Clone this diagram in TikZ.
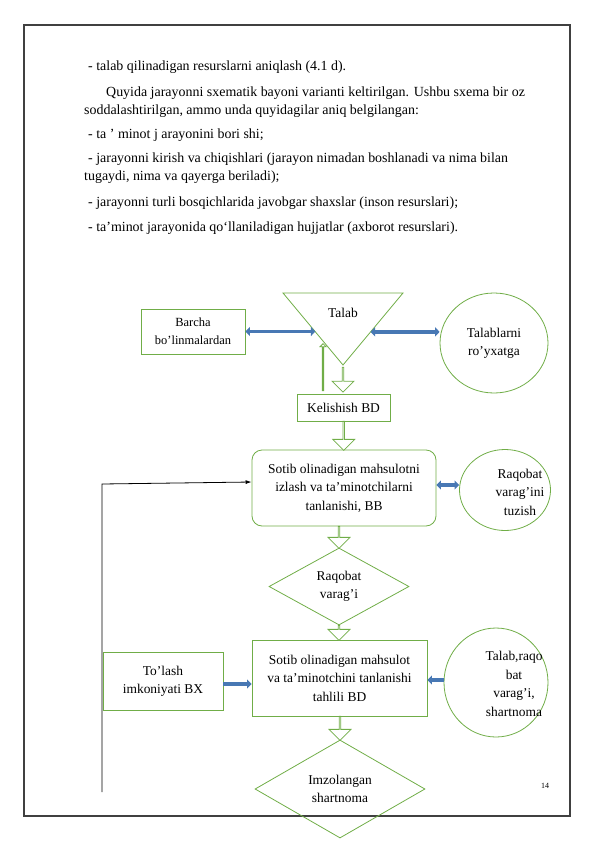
\documentclass[tikz,border=0pt]{standalone}
\usepackage{fontspec}
\setmainfont{Liberation Serif}
\usetikzlibrary{shapes.geometric,shapes.arrows,arrows.meta,calc}
\definecolor{gline}{RGB}{112,173,71}
\definecolor{bline}{RGB}{72,120,180}
\definecolor{framec}{RGB}{64,64,64}
\tikzset{
  box/.style={draw=gline, line width=0.8bp, align=center, inner sep=0pt},
  rbox/.style={box, rounded corners=10bp},
  ell/.style={box, ellipse},
  dia/.style={box, diamond},
  harrow/.style={single arrow, draw=gline, fill=white, line width=0.8bp,
    shape border rotate=270, minimum width=22bp, single arrow head extend=5.5bp,
    inner sep=0pt, minimum height=#1},
  btip/.style={-{Triangle[length=4.5bp,width=9bp]}},
  barrow/.style={draw=bline, line width=3.5bp, btip},
  bbarrow/.style={draw=bline, line width=3.5bp, {Triangle[length=4.5bp,width=9bp]}-{Triangle[length=4.5bp,width=9bp]}},
  body/.style={anchor=base west, inner sep=0pt, font=\fontsize{14}{16}\selectfont},
}
\begin{document}
\begin{tikzpicture}[x=1bp,y=-1bp,font=\fontsize{13.5}{18.5}\selectfont]
\useasboundingbox (0,0) rectangle (595,842);
\draw[framec, line width=2bp] (24,25) rectangle (570,816);

% text above the scheme
\node[body] (t1) at (88,70) {- talab qilinadigan resurslarni aniqlash (4.1 d).};
\node[body] (t2) at (106,96) {Quyida jarayonni sxematik bayoni varianti keltirilgan. Ushbu sxema bir oz};
\node[body] (t3) at (84,114) {soddalashtirilgan, ammo unda quyidagilar aniq belgilangan:};
\node[body] (t4) at (88,138) {- ta ’ minot j arayonini bori shi;};
\node[body] (t5) at (88,162) {- jarayonni kirish va chiqishlari (jarayon nimadan boshlanadi va nima bilan};
\node[body] (t6) at (84,180) {tugaydi, nima va qayerga beriladi);};
\node[body] (t7) at (88,206) {- jarayonni turli bosqichlarida javobgar shaxslar (inson resurslari);};
\node[body] (t8) at (88,231) {- ta’minot jarayonida qo‘llaniladigan hujjatlar (axborot resurslari).};

% top row
\draw[gline, line width=0.8bp] (283,293) coordinate (tl) -- (403,293) coordinate (tr)
  -- (343,365) coordinate (tb) -- cycle;
\node (talab) at (343,313) {Talab};
\coordinate (tedgel) at ($(tl)!0.54!(tb)$);
\coordinate (tedger) at ($(tr)!0.54!(tb)$);
\node[box, minimum width=104bp, minimum height=45bp, font=\fontsize{12.5}{18.5}\selectfont]
  (barcha) at (193,331.5) {Barcha\\bo’linmalardan};
\node[ell, minimum width=108bp, minimum height=100bp] (royxat) at (494,343) {Talablarni\\ro’yxatga};
\draw[bbarrow] (barcha.east) -- (barcha.east -| tedgel);
\draw[bbarrow] (tedger) -- (tedger -| royxat.west);

\node[box, minimum width=93bp, minimum height=27bp] (kelish) at (343.5,407.5) {Kelishish BD};
\path (tb) -- node[harrow=25bp] (a1) {} (tb |- kelish.north);
\coordinate (upfoot) at (323,391);
\path (upfoot) -- node[harrow=47bp, minimum width=6bp, single arrow head extend=1.5bp,
  shape border rotate=90] (a0) {} (323,344);

% search and competition sheet
\node[rbox, minimum width=184bp, minimum height=76bp] (izlash) at (344,488)
  {Sotib olinadigan mahsulotni\\izlash va ta’minotchilarni\\tanlanishi, BB};
\path (kelish.south) -- node[harrow=29bp] (a2) {} (izlash.north);
\node[ell, minimum width=91bp, minimum height=81bp] (tuzish) at (505,490) {};
\node[align=center] (tuzishtxt) at (520,492) {Raqobat\\varag’ini\\tuzish};
\draw[bbarrow] (izlash.east |- 0,485) -- (tuzish.west |- 0,485);

\node[dia, minimum width=140bp, minimum height=77bp] (raqobat) at (339,586.5) {Raqobat\\varag’i};
\path (izlash.south -| raqobat.north) -- node[harrow=22bp] (a3) {} (raqobat.north);

% analysis
\node[box, minimum width=175bp, minimum height=76bp] (tahlil) at (339.5,678)
  {Sotib olinadigan mahsulot\\va ta’minotchini tanlanishi\\tahlili BD};
\path (raqobat.south) -- node[harrow=15bp] (a4) {} (raqobat.south |- tahlil.north);
\node[box, minimum width=120bp, minimum height=58bp] (tolash) at (163,681) {To’lash\\imkoniyati BX};
\draw[barrow] (tolash.east |- 0,684) -- (tahlil.west |- 0,684);
\node[ell, minimum width=104bp, minimum height=109bp] (shartn) at (496,682.5) {};
\node[align=center] (shartntxt) at (514,684) {Talab,raqo\\bat\\varag’i,\\shartnoma};
\draw[barrow] (shartn.west |- 0,680) -- (tahlil.east |- 0,680);

\node[dia, minimum width=170bp, minimum height=98bp] (imzo) at (340,789) {Imzolangan\\shartnoma};
\path (tahlil.south -| imzo.north) -- node[harrow=24bp] (a5) {} (imzo.north);

% back line
\coordinate (fbfoot) at (102,792);
\coordinate (fbcorner) at (102,484);
\draw[black, line width=0.8bp, -{Latex[length=6bp,width=4bp]}] (fbfoot) -- (fbcorner)
  -- ($(izlash.west)+(0,-6)$);

\node[font=\fontsize{8}{9}\selectfont] (pnum) at (545,786) {14};
\end{tikzpicture}
\end{document}
